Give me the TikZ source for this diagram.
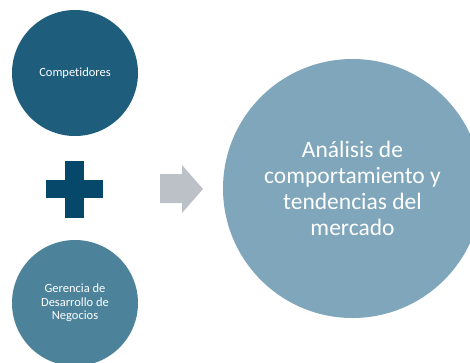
\documentclass[tikz,border=0pt]{standalone}
\usepackage{fontspec}
\setmainfont[Ligatures=NoCommon]{Carlito}
\definecolor{cTop}{RGB}{30,94,124}
\definecolor{cBot}{RGB}{76,131,155}
\definecolor{cBig}{RGB}{127,166,186}
\definecolor{cPlus}{RGB}{5,72,106}
\definecolor{cArrow}{RGB}{188,193,200}
\begin{document}
\begin{tikzpicture}[x=1pt,y=-1pt,
  smallcirc/.style={circle,minimum size=126pt,inner sep=0pt,text=white,font=\fontsize{12.5}{13.5}\selectfont,align=center},
  bigcirc/.style={circle,minimum size=259pt,inner sep=0pt,fill=cBig,text=white,font=\fontsize{23.5}{26}\selectfont,align=center}]
\useasboundingbox (0,0) rectangle (470,362);
\begin{scope}
\clip (0,0) rectangle (470,362);
\node[smallcirc,fill=cTop] (comp) at (75,73) {Competidores};
\node[smallcirc,fill=cBot] (ger) at (75,303) {Gerencia de\\Desarrollo de\\Negocios};
\node[bigcirc] (ana) at (352.5,188.5) {Análisis de\\comportamiento y\\tendencias del\\mercado};
\fill[cPlus] (65,161) rectangle (84,218);
\fill[cPlus] (46,180) rectangle (103,198);
\fill[cArrow] (160,174) -- (182,174) -- (182,165) -- (203,189) -- (182,213) -- (182,203) -- (160,203) -- cycle;
\end{scope}
\end{tikzpicture}
\end{document}
